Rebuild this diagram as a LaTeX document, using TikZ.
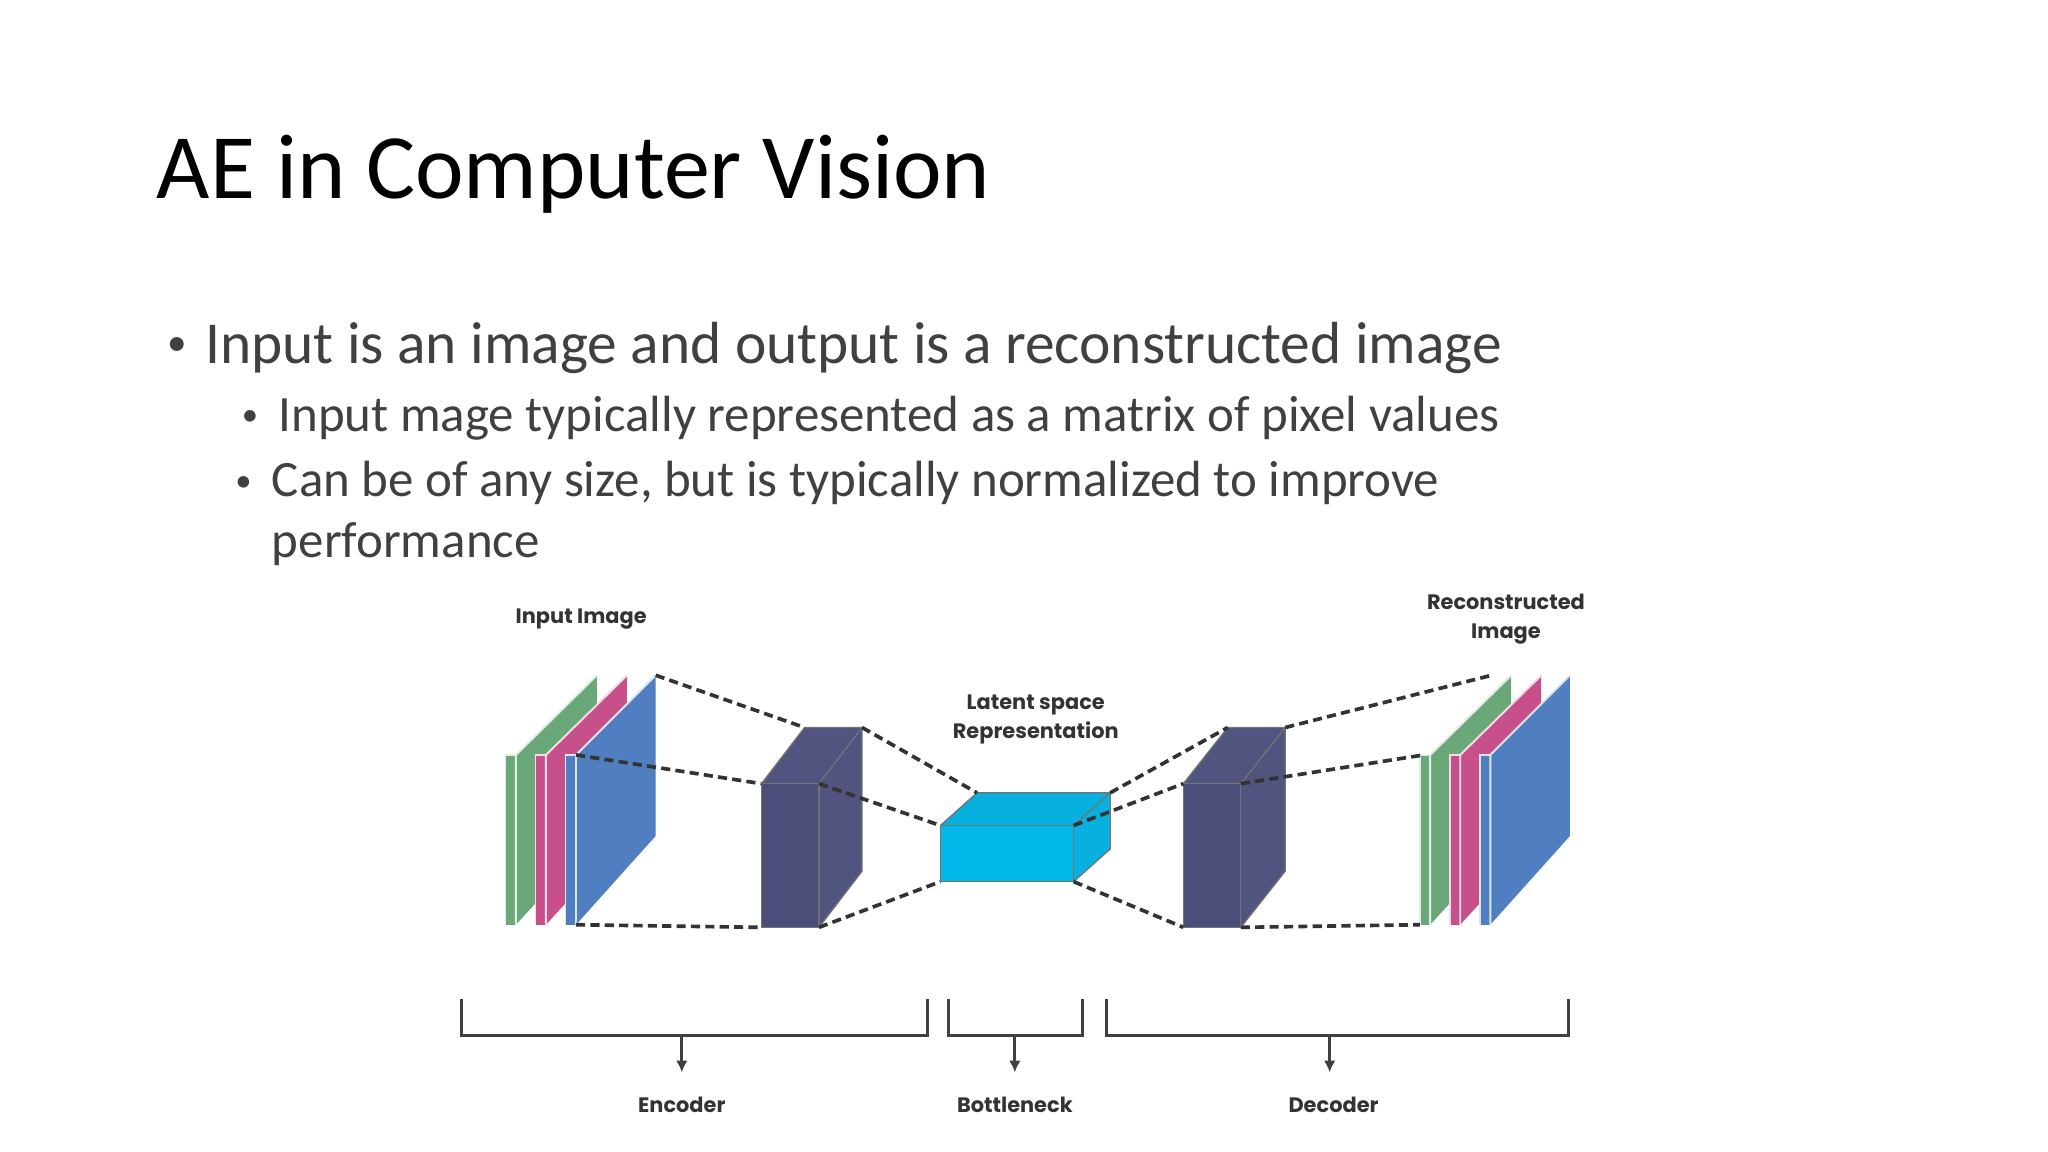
\documentclass[tikz,border=0pt]{standalone}
\usepackage{fontspec}
\usetikzlibrary{arrows.meta}
\setmainfont{Carlito}
\newfontfamily\lblfont{Poppins}
\definecolor{slgreen}{HTML}{6AA879}
\definecolor{slpink}{HTML}{C8508A}
\definecolor{slblue}{HTML}{4F7FC0}
\definecolor{boxdark}{HTML}{4A4E78}
\definecolor{boxside}{HTML}{50547F}
\definecolor{boxcyan}{HTML}{00B8E8}
\definecolor{boxcyanside}{HTML}{08B0E0}
\definecolor{bodygray}{HTML}{404040}
\newcommand{\slab}[3]{%
  \fill[#2] (#1,578) rectangle ++(8,130);
  \fill[#2] (#1+8,578) -- (#1+#3,517) -- (#1+#3,640) -- (#1+8,708) -- cycle;
  \draw[white!80!#2, line width=1.5pt] (#1+8,708) -- (#1+8,578) -- (#1+#3,517);
  \draw[white!80!#2, line width=1.2pt] (#1,708) -- (#1,578) -- (#1+8,578);
}
\newcommand{\cube}[8]{% x0 y0 w h dx dy frontcolor sidecolor
  \fill[#7] (#1,#2) rectangle ++(#3,#4);
  \fill[#8] (#1+#3,#2) -- ++(#5,-#6) -- ++(0,#4) -- (#1+#3,#2+#4) -- cycle;
  \fill[#8] (#1,#2) -- ++(#5,-#6) -- ++(#3,0) -- (#1+#3,#2) -- cycle;
  \draw[black!55, line width=1pt] (#1,#2) rectangle ++(#3,#4);
  \draw[black!55, line width=1pt] (#1,#2) -- ++(#5,-#6) -- ++(#3,0) -- ++(0,#4) -- (#1+#3,#2+#4);
  \draw[black!55, line width=1pt] (#1+#3,#2) -- ++(#5,-#6);
}
\tikzset{
  link/.style={line width=2.8pt, black!80, dash pattern=on 7pt off 4pt},
  lbl/.style={font=\lblfont\bfseries\fontsize{16}{22}\selectfont, text=black!80, align=center},
  brk/.style={line width=2.4pt, black!75},
  body/.style={anchor=base west, text=bodygray, inner sep=0}
}
\begin{document}
\begin{tikzpicture}[x=1pt,y=-1pt]
\useasboundingbox (0,0) rectangle (1568,882);
% title and bullets
\node[anchor=base west, inner sep=0] (title) at (120,152) {\fontsize{70.5}{80}\selectfont AE in Computer Vision};
\node[body] (b1dot) at (128,272) {\fontsize{30}{36}\selectfont •};
\node[body] (b1) at (157,278) {\fontsize{45.5}{52}\selectfont Input is an image and output is a reconstructed image};
\node[body] (b2dot) at (185,326) {\fontsize{25}{30}\selectfont •};
\node[body] (b2) at (213,330) {\fontsize{39}{46}\selectfont Input mage typically represented as a matrix of pixel values};
\node[body] (b3dot) at (180,376) {\fontsize{25}{30}\selectfont •};
\node[body] (b3) at (208,380) {\fontsize{39}{46}\selectfont Can be of any size, but is typically normalized to improve};
\node[body] (b3b) at (208,427) {\fontsize{39}{46}\selectfont performance};
% input slabs
\slab{387}{slgreen}{70}
\slab{410}{slpink}{70}
\slab{433}{slblue}{69}
% output slabs
\slab{1087}{slgreen}{70}
\slab{1110}{slpink}{70}
\slab{1133}{slblue}{69}
% boxes
\cube{583}{600}{44}{110}{33}{43}{boxdark}{boxside}
\cube{720}{632}{102}{43}{28}{25}{boxcyan}{boxcyanside}
\cube{906}{600}{44}{110}{34}{43}{boxdark}{boxside}
% corner coordinates
\coordinate (inBT) at (502,517);
\coordinate (inFT) at (441,578);
\coordinate (inFB) at (441,708);
\coordinate (e1BL) at (616,557);
\coordinate (e1BR) at (660,557);
\coordinate (e1FL) at (583,600);
\coordinate (e1FR) at (627,600);
\coordinate (e1BbL) at (583,710);
\coordinate (e1BbR) at (627,710);
\coordinate (cBL) at (748,607);
\coordinate (cBR) at (850,607);
\coordinate (cFL) at (720,632);
\coordinate (cFR) at (822,632);
\coordinate (cBbL) at (720,675);
\coordinate (cBbR) at (822,675);
\coordinate (d1BL) at (940,557);
\coordinate (d1BR) at (984,557);
\coordinate (d1FL) at (906,600);
\coordinate (d1FR) at (950,600);
\coordinate (d1BbL) at (906,710);
\coordinate (d1BbR) at (950,710);
\coordinate (outBT) at (1142,517);
\coordinate (outFT) at (1090,578);
\coordinate (outFB) at (1087,708);
% dashed links
\draw[link] (inBT) -- (e1BL);
\draw[link] (inFT) -- (e1FL);
\draw[link] (inFB) -- (e1BbL);
\draw[link] (e1BR) -- (cBL);
\draw[link] (e1FR) -- (cFL);
\draw[link] (e1BbR) -- (cBbL);
\draw[link] (cBR) -- (d1BL);
\draw[link] (cFR) -- (d1FL);
\draw[link] (cBbR) -- (d1BbL);
\draw[link] (d1BR) -- (outBT);
\draw[link] (d1FR) -- (outFT);
\draw[link] (d1BbR) -- (outFB);
% labels
\node[lbl] (inlbl) at (445,474) {Input Image};
\node[lbl] (outlbl) at (1153,474) {Reconstructed\\Image};
\node[lbl] (latlbl) at (793,551) {Latent space\\Representation};
% brackets
\draw[brk] (353,765) -- (353,793) -- (710,793) -- (710,765);
\draw[brk] (726,765) -- (726,793) -- (829,793) -- (829,765);
\draw[brk] (847,765) -- (847,793) -- (1201,793) -- (1201,765);
\node[lbl] (enc) at (522,846) {Encoder};
\node[lbl] (bot) at (777,846) {Bottleneck};
\node[lbl] (dec) at (1021,846) {Decoder};
\coordinate (encTop) at (522,793);
\coordinate (botTop) at (777,793);
\coordinate (decTop) at (1018,793);
\draw[brk,-{Latex[length=9pt,width=9pt]}] (encTop) -- (522,821);
\draw[brk,-{Latex[length=9pt,width=9pt]}] (botTop) -- (777,821);
\draw[brk,-{Latex[length=9pt,width=9pt]}] (decTop) -- (1018,821);
\end{tikzpicture}
\end{document}
